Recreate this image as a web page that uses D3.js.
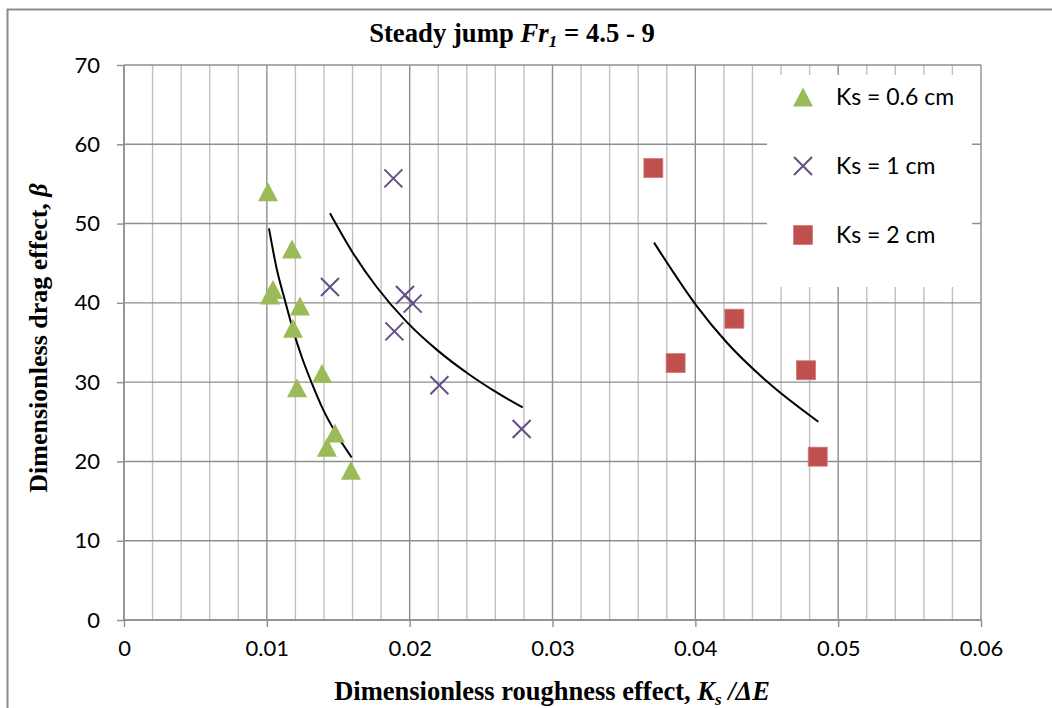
<!DOCTYPE html>
<html>
<head>
<meta charset="utf-8">
<script src="https://cdn.jsdelivr.net/npm/d3@7"></script>
<style>
html,body{margin:0;padding:0;background:#fff;}
svg{display:block;}
</style>
</head>
<body>
<svg id="chart" width="1052" height="708"></svg>
<script>
// ---- data ----
const seriesNames = ["Ks = 0.6 cm", "Ks = 1 cm", "Ks = 2 cm"];
const ks06X = [0.01008, 0.01176, 0.01043, 0.01022, 0.01232, 0.01183, 0.01386, 0.01211, 0.01477, 0.01421, 0.01589];
const ks06Y = [54.0, 46.8, 41.7, 41.0, 39.6, 36.8, 31.1, 29.3, 23.6, 21.8, 18.9];
const ks1X = [0.01886, 0.01442, 0.01967, 0.02021, 0.01893, 0.02208, 0.02784];
const ks1Y = [55.7, 42.0, 41.0, 39.9, 36.4, 29.6, 24.1];
const ks2X = [0.03706, 0.04273, 0.03862, 0.04775, 0.04857];
const ks2Y = [57.0, 38.0, 32.4, 31.5, 20.6];
// trend curves
const fit06X = [0.01015, 0.01069, 0.01127, 0.01185, 0.01244, 0.01314, 0.01395, 0.01489, 0.01594];
const fit06Y = [49.4, 44.3, 40.3, 36.5, 33.2, 29.9, 26.5, 23.4, 20.5];
const fit1X = [0.01442, 0.01606, 0.01769, 0.01979, 0.02189, 0.02422, 0.02609, 0.02791];
const fit1Y = [51.3, 46.2, 42.0, 37.6, 34.1, 30.9, 28.7, 26.8];
const fit2X = [0.03711, 0.0401, 0.0422, 0.045, 0.04861];
const fit2Y = [47.6, 39.6, 35.0, 30.1, 25.0];
const xTicks = [0, 0.01, 0.02, 0.03, 0.04, 0.05, 0.06];
const xTickLabels = ["0", "0.01", "0.02", "0.03", "0.04", "0.05", "0.06"];
const yTicks = [0, 10, 20, 30, 40, 50, 60, 70];

const colors = {green: "#9BBB59", purple: "#634E87", red: "#C0504D"};
const svg = d3.select("#chart");

// outer chart border
svg.append("rect").attr("x", 7.5).attr("y", 9.5).attr("width", 1060).attr("height", 720)
  .attr("fill", "#fff").attr("stroke", "#8c8c8c").attr("stroke-width", 2);

const x = d3.scaleLinear().domain([0, 0.06]).range([124, 981]);
const y = d3.scaleLinear().domain([0, 70]).range([620, 65]);

// gridlines
const g = svg.append("g");
const minor = d3.range(0, 31).map(i => i * 0.002);
g.selectAll("line.vminor").data(minor).enter().append("line")
  .attr("x1", d => x(d)).attr("x2", d => x(d)).attr("y1", y(70)).attr("y2", y(0))
  .attr("stroke", (d, i) => i % 5 === 0 ? "#8e8e8e" : "#c0c0c0").attr("stroke-width", 1.4);
g.selectAll("line.h").data(yTicks).enter().append("line")
  .attr("x1", x(0)).attr("x2", x(0.06)).attr("y1", d => y(d)).attr("y2", d => y(d))
  .attr("stroke", "#8e8e8e").attr("stroke-width", 1.4);

// axes
const xAxis = d3.axisBottom(x).tickValues(xTicks).tickFormat((d, i) => xTickLabels[i]).tickSize(7).tickPadding(13);
const gx = svg.append("g").attr("transform", `translate(0,${y(0)})`).call(xAxis);
gx.select(".domain").attr("stroke", "#8e8e8e").attr("stroke-width", 1.4).attr("d", `M${x(0)},0H${x(0.06)}`);
gx.selectAll(".tick line").attr("stroke", "#8e8e8e").attr("stroke-width", 1.4);
gx.selectAll(".tick text").attr("font-family", "Lato, 'Open Sans', sans-serif").attr("font-size", 22).attr("fill", "#000");

const yAxis = d3.axisLeft(y).tickValues(yTicks).tickFormat(d3.format("d")).tickSize(7).tickPadding(17);
const gy = svg.append("g").attr("transform", `translate(${x(0)},0)`).call(yAxis);
gy.select(".domain").attr("stroke", "#8e8e8e").attr("stroke-width", 1.4).attr("d", `M0,${y(0)}V${y(70)}`);
gy.selectAll(".tick line").attr("stroke", "#8e8e8e").attr("stroke-width", 1.4);
gy.selectAll(".tick text").attr("font-family", "Lato, 'Open Sans', sans-serif").attr("font-size", 22).attr("fill", "#000");

// legend box (white, covers grid)
svg.append("rect").attr("x", 767).attr("y", 75).attr("width", 205).attr("height", 212).attr("fill", "#fff");

// trend curves
const line = d3.line().x(d => x(d[0])).y(d => y(d[1])).curve(d3.curveMonotoneX);
[[fit06X, fit06Y], [fit1X, fit1Y], [fit2X, fit2Y]].forEach(([xs, ys]) => {
  svg.append("path").attr("d", line(xs.map((v, i) => [v, ys[i]])))
    .attr("fill", "none").attr("stroke", "#000").attr("stroke-width", 2);
});

// marker drawers
function tri(sel, cx, cy) {
  sel.append("path").attr("d", `M${cx},${cy - 9.5}L${cx + 10},${cy + 9.5}L${cx - 10},${cy + 9.5}Z`)
    .attr("fill", colors.green);
}
function cross(sel, cx, cy) {
  sel.append("path").attr("d", `M${cx - 9},${cy - 9}L${cx + 9},${cy + 9}M${cx + 9},${cy - 9}L${cx - 9},${cy + 9}`)
    .attr("stroke", colors.purple).attr("stroke-width", 2).attr("fill", "none");
}
function sq(sel, cx, cy) {
  sel.append("rect").attr("x", cx - 9.5).attr("y", cy - 9.5).attr("width", 19).attr("height", 19)
    .attr("fill", colors.red).attr("stroke", "#d07a78").attr("stroke-width", 0.8);
}
const m = svg.append("g");
ks06X.forEach((v, i) => tri(m, x(v), y(ks06Y[i])));
ks1X.forEach((v, i) => cross(m, x(v), y(ks1Y[i])));
ks2X.forEach((v, i) => sq(m, x(v), y(ks2Y[i])));

// legend
const legY = [97, 166, 235];
const lg = svg.append("g");
tri(lg, 803, legY[0]); cross(lg, 803, legY[1]); sq(lg, 803, legY[2]);
seriesNames.forEach((s, i) => {
  lg.append("text").attr("x", 836).attr("y", legY[i]).attr("dy", "0.36em")
    .attr("font-family", "Lato, 'Open Sans', sans-serif").attr("font-size", 23).text(s);
});

// title
const serif = "'Liberation Serif', 'Times New Roman', serif";
const t = svg.append("text").attr("x", 512).attr("y", 42).attr("text-anchor", "middle")
  .attr("font-family", serif).attr("font-weight", "bold").attr("font-size", 26.7);
t.append("tspan").text("Steady jump ");
t.append("tspan").attr("font-style", "italic").text("Fr");
t.append("tspan").attr("font-style", "italic").attr("font-size", 17.5).attr("dy", 5).text("1");
t.append("tspan").attr("dy", -5).text(" = 4.5 - 9");

// x label
const xl = svg.append("text").attr("x", 552).attr("y", 700).attr("text-anchor", "middle")
  .attr("font-family", serif).attr("font-weight", "bold").attr("font-size", 26.5);
xl.append("tspan").text("Dimensionless roughness effect, ");
xl.append("tspan").attr("font-style", "italic").text("K");
xl.append("tspan").attr("font-style", "italic").attr("font-size", 17).attr("dy", 5).text("s");
xl.append("tspan").attr("font-style", "italic").attr("dy", -5).text(" /ΔE");

// y label
svg.append("text").attr("transform", "translate(47,338) rotate(-90)").attr("text-anchor", "middle")
  .attr("font-family", serif).attr("font-weight", "bold").attr("font-size", 26)
  .call(s => { s.append("tspan").text("Dimensionless drag effect, "); s.append("tspan").attr("font-style", "italic").text("β"); });
</script>
</body>
</html>
